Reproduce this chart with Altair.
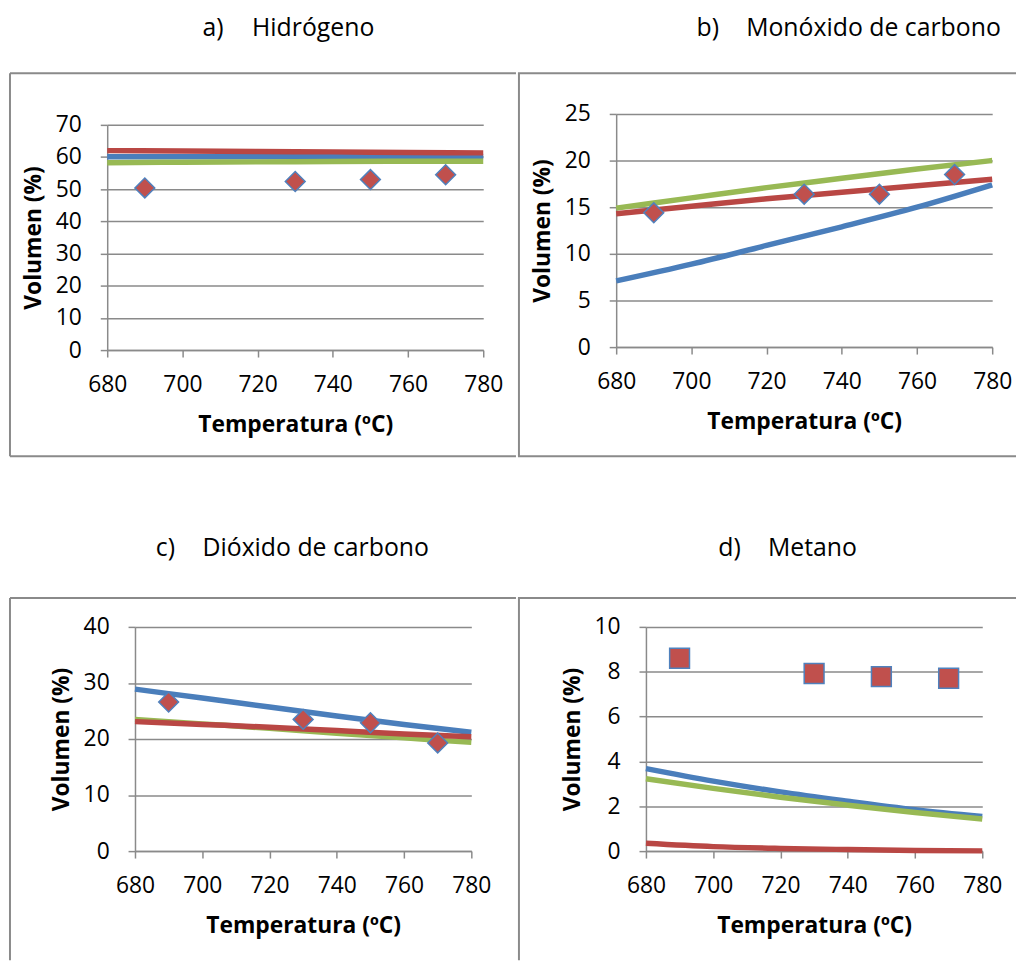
import altair as alt
import pandas as pd

# ---------------- data ----------------
T_LINE = [680, 700, 720, 740, 760, 780]
T_EXP = [690, 730, 750, 770]
X_TICKS = [680, 700, 720, 740, 760, 780]

# a) Hidrógeno
H2_BLUE = [60.1, 60.1, 60.1, 60.2, 60.2, 60.2]
H2_RED = [62.0, 61.9, 61.7, 61.6, 61.4, 61.3]
H2_GREEN = [58.2, 58.4, 58.5, 58.6, 58.7, 58.7]
H2_EXP = [50.4, 52.4, 53.0, 54.5]

# b) Monóxido de carbono
CO_BLUE = [7.1, 8.9, 10.9, 12.9, 15.0, 17.4]
CO_RED = [14.3, 15.1, 15.9, 16.6, 17.3, 18.0]
CO_GREEN = [14.9, 16.0, 17.1, 18.1, 19.1, 20.0]
CO_EXP = [14.4, 16.4, 16.4, 18.5]

# c) Dióxido de carbono
CO2_BLUE = [28.9, 27.3, 25.7, 24.1, 22.6, 21.2]
CO2_RED = [23.1, 22.6, 22.1, 21.5, 20.9, 20.4]
CO2_GREEN = [23.5, 22.7, 21.9, 21.0, 20.2, 19.4]
CO2_EXP = [26.6, 23.5, 22.9, 19.3]

# d) Metano
CH4_BLUE = [3.68, 3.12, 2.64, 2.23, 1.85, 1.54]
CH4_RED = [0.35, 0.20, 0.12, 0.07, 0.03, 0.01]
CH4_GREEN = [3.23, 2.80, 2.40, 2.05, 1.72, 1.43]
CH4_EXP = [8.60, 7.92, 7.78, 7.71]

# ---------------- style ----------------
BLUE = "#4A7EBB"
RED = "#B94744"
GREEN = "#98B954"
M_FILL = "#C0504D"
M_STROKE = "#4F81BD"
GRAY = "#8a8a8a"
FONT = "Open Sans"

ONE = pd.DataFrame({"k": [0]})


def v(p):
    return alt.value(p)


def panel(blue, red, green, exp, ymax, ystep, shape, size,
          ox, oy, W, H, cell, titles, rules):
    cx1, cy1, cx2, cy2 = cell
    CW, CH = cx2 - cx1, cy2 - cy1
    lx, ly = ox - cx1, oy - cy1
    xenc = alt.X("T:Q",
                 scale=alt.Scale(domain=[680, 780], range=[lx, lx + W], nice=False, zero=False),
                 axis=alt.Axis(values=X_TICKS, grid=False, title="Temperatura (ºC)",
                               offset=(ly + H) - CH,
                               labelPadding=17, titleX=lx + W / 2, titleY=82,
                               titleAlign="center", titleBaseline="alphabetic"))
    yenc = alt.Y("V:Q",
                 scale=alt.Scale(domain=[0, ymax], range=[ly + H, ly], nice=False),
                 axis=alt.Axis(values=list(range(0, ymax + 1, ystep)), grid=True,
                               offset=-lx,
                               title="Volumen (%)", labelPadding=19,
                               titleAngle=270, titleX=-74, titleY=ly + H / 2,
                               titleAlign="center", titleBaseline="middle"))

    layers = []
    for (x1, y1, x2, y2) in rules:
        layers.append(alt.Chart(ONE).mark_rule(color=GRAY, strokeWidth=2).encode(
            x=v(x1 - cx1), x2=v(x2 - cx1), y=v(y1 - cy1), y2=v(y2 - cy1)))
    for vals, col in [(blue, BLUE), (green, GREEN), (red, RED)]:
        df = pd.DataFrame({"T": T_LINE, "V": vals})
        layers.append(alt.Chart(df).mark_line(color=col, strokeWidth=5.5,
                                              interpolate="monotone").encode(x=xenc, y=yenc))
    dfe = pd.DataFrame({"T": T_EXP, "V": exp})
    layers.append(alt.Chart(dfe).mark_point(shape=shape, filled=True, fill=M_FILL,
                                            stroke=M_STROKE, strokeWidth=1.5,
                                            size=size, opacity=1).encode(x=xenc, y=yenc))
    for (txt, tx, ty) in titles:
        layers.append(alt.Chart(ONE).mark_text(text=txt, font=FONT, fontSize=25,
                                               align="left", baseline="alphabetic",
                                               color="black").encode(
            x=v(tx - cx1), y=v(ty - cy1)))
    return alt.layer(*layers).properties(width=CW, height=CH)


pa = panel(H2_BLUE, H2_RED, H2_GREEN, H2_EXP, 70, 10, "diamond", 400,
           108, 122, 379, 227, (8, 8, 520, 520),
           [("a)", 204, 32), ("Hidrógeno", 254, 32)],
           [(10, 70, 520, 70), (10, 456, 520, 456), (10, 70, 10, 456)])
pb = panel(CO_BLUE, CO_RED, CO_GREEN, CO_EXP, 25, 5, "diamond", 400,
           619, 111, 379, 235, (520, 8, 1022, 520),
           [("b)", 700, 32), ("Monóxido de carbono", 750, 32)],
           [(520, 70, 1022, 70), (520, 456, 1022, 456), (521, 70, 521, 456)])
pc = panel(CO2_BLUE, CO2_RED, CO2_GREEN, CO2_EXP, 40, 10, "diamond", 400,
           136, 628, 339, 226, (8, 520, 520, 964),
           [("c)", 157, 557), ("Dióxido de carbono", 204, 557)],
           [(10, 599, 520, 599), (10, 599, 10, 964)])
pd_ = panel(CH4_BLUE, CH4_RED, CH4_GREEN, CH4_EXP, 10, 2, "square", 400,
            649, 628, 339, 226, (520, 520, 1022, 964),
            [("d)", 722, 557), ("Metano", 772, 557)],
            [(520, 599, 1022, 599), (521, 599, 521, 964)])

chart = alt.vconcat(
    alt.hconcat(pa, pb, spacing=0),
    alt.hconcat(pc, pd_, spacing=0),
    spacing=0,
    padding=0,
).configure_view(strokeWidth=0).configure_axis(
    labelFont=FONT, labelFontSize=23, labelColor="black",
    titleFont=FONT, titleFontSize=23, titleFontWeight="bold", titleColor="black",
    domainColor=GRAY, domainWidth=1.5, tickColor=GRAY, tickWidth=1.5, tickSize=7,
    gridColor=GRAY, gridWidth=1.5, labelFlush=False, labelOverlap=False,
)

chart.save("out.html", embed_options={"renderer": "svg", "actions": False})
